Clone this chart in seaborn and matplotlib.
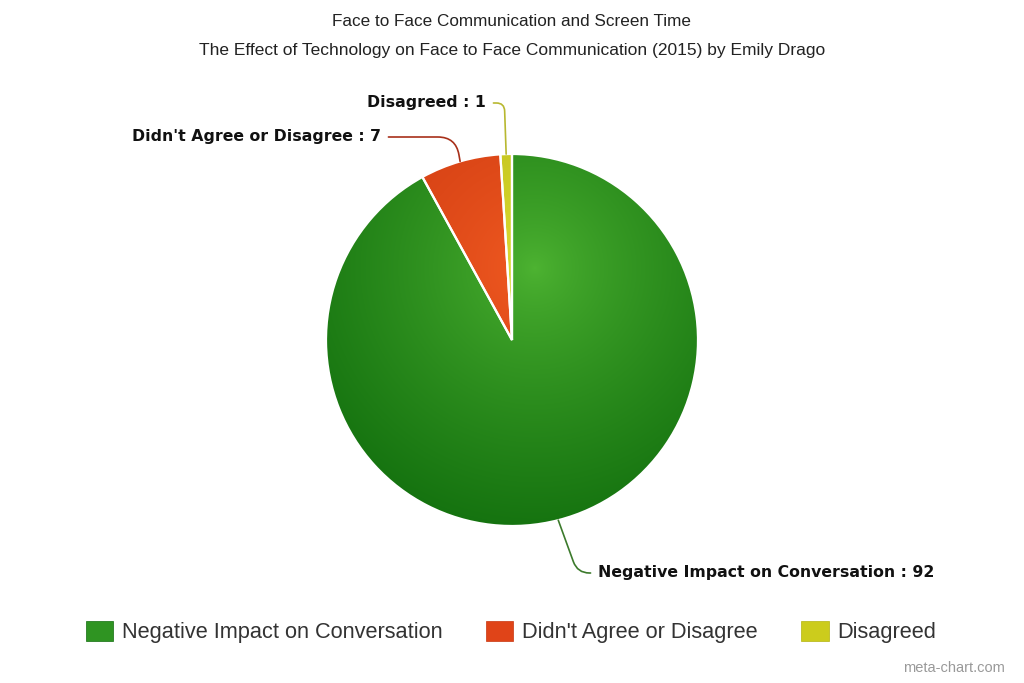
import numpy as np
import matplotlib
matplotlib.use("Agg")
import matplotlib.pyplot as plt
import seaborn as sns
from matplotlib.patches import Patch
from matplotlib.colors import to_rgb

# chart data
labels = ["Negative Impact on Conversation", "Didn't Agree or Disagree", "Disagreed"]
values = [92, 7, 1]

# (light, dark) shades for the radial gradient of each slice
light_colors = ["#4eb432", "#f25c22", "#dede34"]
dark_colors = ["#0f6c0c", "#c8340e", "#b4b410"]
line_colors = ["#3c7a2c", "#a8301a", "#b8b830"]

sns.set_theme(style="white")
plt.rcParams["font.family"] = ["Liberation Sans", "DejaVu Sans"]

H = 683
cx, cy, r = 512, H - 340, 186

fig = plt.figure(figsize=(10.24, 6.83), dpi=100)
ax = fig.add_axes([0, 0, 1, 1])

wedges, _ = ax.pie(values, startangle=90, counterclock=False, center=(cx, cy),
                   radius=r, colors=light_colors,
                   wedgeprops=dict(edgecolor="white", linewidth=1.6))

# radial gradient, highlight a bit above and right of the centre
n = 400
xs = np.linspace(cx - r, cx + r, n)
ys = np.linspace(cy - r, cy + r, n)
gx, gy = np.meshgrid(xs, ys)
d = np.hypot(gx - 535, gy - (H - 268))
t = np.clip(d / 300, 0, 1)[..., None] ** 0.75
for w, lc, dc in zip(wedges, light_colors, dark_colors):
    img = np.array(to_rgb(lc)) * (1 - t) + np.array(to_rgb(dc)) * t
    im = ax.imshow(img, extent=(cx - r, cx + r, cy - r, cy + r), origin="lower",
                   zorder=2, interpolation="bilinear")
    im.set_clip_path(w)
    w.set_facecolor("none")
    w.set_zorder(3)

# data labels with connectors
label_pos = [(598, H - 573, "left", "angle,angleA=0,angleB=110,rad=12"),
             (381, H - 137, "right", "angle,angleA=0,angleB=100,rad=18"),
             (486, H - 103, "right", "angle,angleA=0,angleB=92,rad=8")]
for w, lab, val, col, (lx, ly, ha, cs) in zip(wedges, labels, values, line_colors, label_pos):
    mid = np.deg2rad((w.theta1 + w.theta2) / 2)
    ex, ey = cx + r * np.cos(mid), cy + r * np.sin(mid)
    ax.annotate(f"{lab} : {val}", xy=(ex, ey), xytext=(lx, ly), ha=ha, va="center",
                fontsize=11.3, fontweight="bold", color="#111111", family="DejaVu Sans",
                arrowprops=dict(arrowstyle="-", color=col, lw=1.2,
                                connectionstyle=cs, shrinkA=3, shrinkB=0))

ax.set_xlim(0, 1024)
ax.set_ylim(0, H)
ax.set_aspect("equal")
ax.axis("off")

fig.text(0.5, 1 - 22 / H, "Face to Face Communication and Screen Time",
         ha="center", va="center", fontsize=12.3, color="#222222")
fig.text(0.5, 1 - 50 / H,
         "The Effect of Technology on Face to Face Communication (2015) by Emily Drago",
         ha="center", va="center", fontsize=12.5, color="#222222")

handles = [Patch(facecolor=c, edgecolor=dc, linewidth=0.5)
           for c, dc in zip(["#2f9422", "#e04418", "#cccc1c"], dark_colors)]
fig.legend(handles, labels, loc="center", bbox_to_anchor=(511 / 1024, 1 - 632 / H),
           ncol=3, frameon=False, fontsize=15.7, handlelength=1.25, handleheight=1.1,
           handletextpad=0.4, columnspacing=2.0, labelcolor="#333333")

fig.text(1005 / 1024, 1 - 668 / H, "meta-chart.com", ha="right", va="center",
         fontsize=10.5, color="#999999")

fig.savefig("out.png", dpi=100, facecolor="white")
